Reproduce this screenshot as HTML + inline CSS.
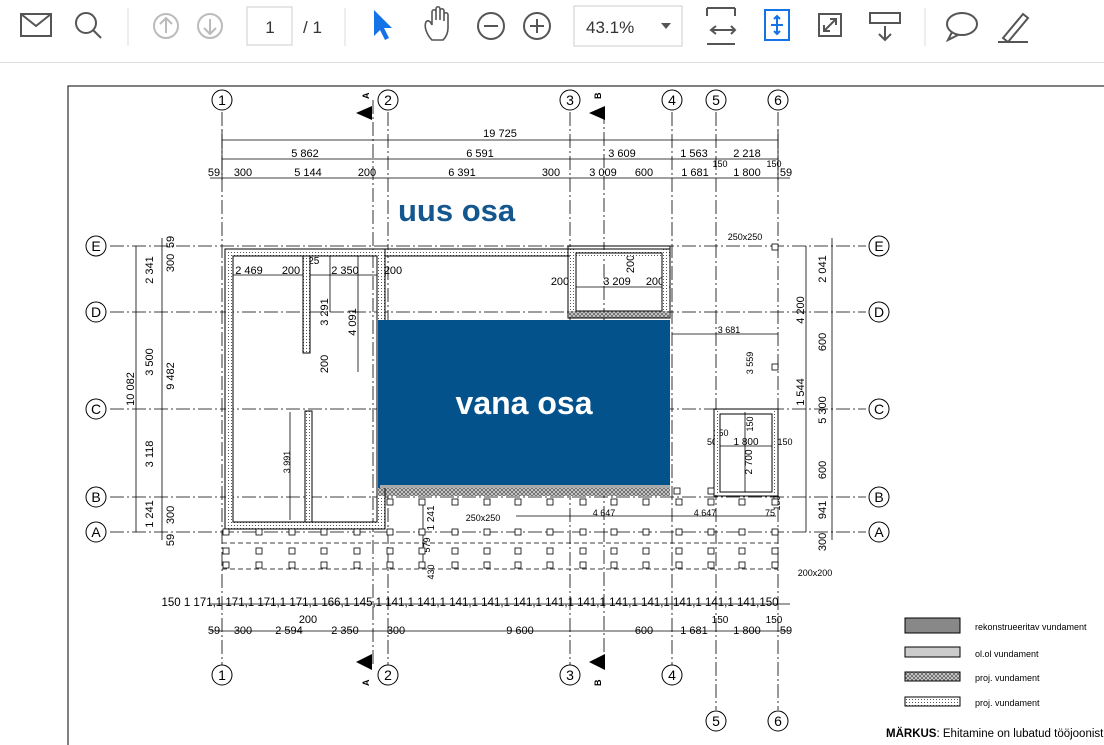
<!DOCTYPE html>
<html><head><meta charset="utf-8"><style>
body{margin:0;width:1104px;height:745px;overflow:hidden;background:#fff;font-family:"Liberation Sans",sans-serif}
#tb{position:absolute;left:0;top:0;width:1104px;height:62px;border-bottom:1px solid #ddd;background:#fff}
svg{position:absolute;left:0;top:0}
</style></head><body>
<div id="tb"></div>
<svg width="1104" height="745" viewBox="0 0 1104 745" font-family="Liberation Sans, sans-serif">
<defs><pattern id="dots" width="3" height="3" patternUnits="userSpaceOnUse"><rect width="3" height="3" fill="#fff"/><rect width="1" height="1" fill="#555"/></pattern>
<pattern id="xh" width="4" height="4" patternUnits="userSpaceOnUse"><rect width="4" height="4" fill="#ccc"/><path d="M0 0l4 4M4 0l-4 4" stroke="#444" stroke-width="0.6"/></pattern></defs>
<!-- toolbar -->
<g fill="none" stroke="#555" stroke-width="2">
<rect x="21" y="14" width="30" height="22"/><path d="M21 14l15 12 15-12"/>
<circle cx="86" cy="23" r="10"/><path d="M93 30l8 8"/>
<circle cx="166" cy="26" r="12" stroke="#bbb"/><path d="M166 33v-14M160 24l6-6 6 6" stroke="#bbb"/>
<circle cx="210" cy="26" r="12" stroke="#bbb"/><path d="M210 19v14M204 28l6 6 6-6" stroke="#bbb"/>
<circle cx="491" cy="26" r="13"/><path d="M484 26h14"/>
<circle cx="537" cy="26" r="13"/><path d="M530 26h14M537 19v14"/>
<path d="M707 8h28M707 8v8M735 8v8M707 44h28M711 30h24M716 26l-5 4 5 4M731 26l4 4-4 4"/>
<path d="M819 14h22v22h-22z M824 31l12-12M830 19h6v6M824 25v6h6"/>
<rect x="870" y="13" width="30" height="10"/><path d="M885 26v14M879 34l6 6 6-6"/>
<ellipse cx="962" cy="24" rx="15" ry="11"/><path d="M952 32l-4 8 10-5"/>
<path d="M1003 38l20-24 5 4-20 24z M998 42h30"/>
<path d="M432 40c-6-6-8-14-6-18 2-3 5 0 6 3v-13c0-3 4-3 4 0v8-11c0-3 4-3 4 0v11-9c0-3 4-3 4 0v10-6c0-3 4-3 4 0v13c0 6-3 10-5 12z" stroke-width="1.6"/>
</g>
<g stroke="#ddd"><line x1="128" y1="8" x2="128" y2="46"/><line x1="345" y1="8" x2="345" y2="46"/><line x1="925" y1="8" x2="925" y2="46"/></g>
<rect x="247" y="7" width="45" height="38" fill="#fff" stroke="#ccc"/>
<text x="270" y="33" font-size="17" text-anchor="middle" fill="#333">1</text>
<text x="303" y="33" font-size="17" fill="#333">/ 1</text>
<rect x="574" y="6" width="108" height="40" fill="#fff" stroke="#ccc"/>
<text x="586" y="33" font-size="17" fill="#333">43.1%</text>
<path d="M661 23h10l-5 6z" fill="#555"/>
<path d="M374 10l0 26 6-6 5 10 4-2-5-10 8 0z" fill="#1473e6"/>
<rect x="765" y="10" width="24" height="30" fill="none" stroke="#1473e6" stroke-width="2"/><path d="M777 16v18M771 25h12M774 19l3-3 3 3M774 31l3 3 3-3" stroke="#1473e6" stroke-width="2" fill="none"/>

<!-- frame -->
<path d="M68 745V86H1104" fill="none" stroke="#000" stroke-width="1"/>

<!-- grid lines -->
<g stroke="#000" stroke-width="0.8" stroke-dasharray="14,3,2,3" fill="none">
<line x1="222" y1="112" x2="222" y2="665"/><line x1="373" y1="100" x2="373" y2="665"/>
<line x1="388" y1="112" x2="388" y2="665"/><line x1="570" y1="112" x2="570" y2="665"/>
<line x1="604" y1="110" x2="604" y2="665"/>
<line x1="672" y1="112" x2="672" y2="665"/><line x1="716" y1="112" x2="716" y2="710"/><line x1="778" y1="112" x2="778" y2="710"/>
<line x1="110" y1="246" x2="866" y2="246"/><line x1="110" y1="312" x2="866" y2="312"/>
<line x1="110" y1="409" x2="866" y2="409"/><line x1="110" y1="497" x2="866" y2="497"/>
<line x1="110" y1="532" x2="866" y2="532"/>
</g>
<g fill="#fff" stroke="#000" stroke-width="1">
<circle cx="222" cy="100" r="10"/><circle cx="388" cy="100" r="10"/><circle cx="570" cy="100" r="10"/><circle cx="672" cy="100" r="10"/><circle cx="716" cy="100" r="10"/><circle cx="778" cy="100" r="10"/>
<circle cx="222" cy="675" r="10"/><circle cx="388" cy="675" r="10"/><circle cx="570" cy="675" r="10"/><circle cx="672" cy="675" r="10"/><circle cx="716" cy="721" r="10"/><circle cx="778" cy="721" r="10"/>
<circle cx="96" cy="246" r="10"/><circle cx="96" cy="312" r="10"/><circle cx="96" cy="409" r="10"/><circle cx="96" cy="497" r="10"/><circle cx="96" cy="532" r="10"/>
<circle cx="879" cy="246" r="10"/><circle cx="879" cy="312" r="10"/><circle cx="879" cy="409" r="10"/><circle cx="879" cy="497" r="10"/><circle cx="879" cy="532" r="10"/>
</g>
<g font-size="14" text-anchor="middle" fill="#000">
<text x="222" y="105">1</text><text x="388" y="105">2</text><text x="570" y="105">3</text><text x="672" y="105">4</text><text x="716" y="105">5</text><text x="778" y="105">6</text>
<text x="222" y="680">1</text><text x="388" y="680">2</text><text x="570" y="680">3</text><text x="672" y="680">4</text><text x="716" y="726">5</text><text x="778" y="726">6</text>
<text x="96" y="251">E</text><text x="96" y="317">D</text><text x="96" y="414">C</text><text x="96" y="502">B</text><text x="96" y="537">A</text>
<text x="879" y="251">E</text><text x="879" y="317">D</text><text x="879" y="414">C</text><text x="879" y="502">B</text><text x="879" y="537">A</text>
</g>
<g fill="#000"><path d="M372 106v14l-16-7z"/><path d="M605 106v14l-16-7z"/><path d="M372 654v16l-16-8z"/><path d="M605 654v16l-16-8z"/></g>
<g font-size="9" font-weight="bold"><text transform="translate(369,99) rotate(-90)">A</text><text transform="translate(601,99) rotate(-90)">B</text><text transform="translate(369,686) rotate(-90)">A</text><text transform="translate(601,686) rotate(-90)">B</text></g>

<!-- dimension lines -->
<g stroke="#000" stroke-width="0.8">
<line x1="222" y1="140" x2="778" y2="140"/><line x1="222" y1="159" x2="778" y2="159"/><line x1="210" y1="178" x2="790" y2="178"/>
<line x1="210" y1="604" x2="790" y2="604"/><line x1="210" y1="631" x2="790" y2="631"/>
<line x1="136" y1="246" x2="136" y2="532"/><line x1="162" y1="238" x2="162" y2="540"/>
<line x1="806" y1="246" x2="806" y2="532"/><line x1="832" y1="238" x2="832" y2="540"/>
<line x1="222" y1="130" x2="222" y2="180"/><line x1="778" y1="130" x2="778" y2="180"/>
<line x1="226" y1="275" x2="386" y2="275"/><line x1="572" y1="287" x2="670" y2="287"/>
<line x1="672" y1="334" x2="778" y2="334"/><line x1="680" y1="516" x2="776" y2="516"/><line x1="516" y1="516" x2="680" y2="516"/>
<line x1="718" y1="446" x2="776" y2="446"/><line x1="745" y1="412" x2="745" y2="492"/>
<line x1="358" y1="256" x2="358" y2="372"/><line x1="330" y1="256" x2="330" y2="312"/><line x1="290" y1="412" x2="290" y2="520"/>
<line x1="423" y1="500" x2="423" y2="565"/>
</g>
<g fill="#000" font-size="11" text-anchor="middle">
<text x="500" y="137">19 725</text>
<text x="305" y="157">5 862</text><text x="480" y="157">6 591</text><text x="622" y="157">3 609</text><text x="694" y="157">1 563</text><text x="747" y="157">2 218</text>
<text x="214" y="176">59</text><text x="243" y="176">300</text><text x="308" y="176">5 144</text><text x="367" y="176">200</text><text x="462" y="176">6 391</text><text x="551" y="176">300</text><text x="603" y="176">3 009</text><text x="644" y="176">600</text><text x="695" y="176">1 681</text><text x="747" y="176">1 800</text><text x="786" y="176">59</text>
<text x="720" y="167" font-size="9">150</text><text x="774" y="167" font-size="9">150</text>
<text x="470" y="606" font-size="11.5">150 1 171,1 171,1 171,1 171,1 166,1 145,1 141,1 141,1 141,1 141,1 141,1 141,1 141,1 141,1 141,1 141,1 141,1 141,150</text>
<text x="214" y="634">59</text><text x="243" y="634">300</text><text x="289" y="634">2 594</text><text x="345" y="634">2 350</text><text x="396" y="634">300</text><text x="520" y="634">9 600</text><text x="644" y="634">600</text><text x="694" y="634">1 681</text><text x="747" y="634">1 800</text><text x="786" y="634">59</text>
<text x="308" y="623">200</text><text x="720" y="623" font-size="10">150</text><text x="774" y="623" font-size="10">150</text>
<text x="249" y="274">2 469</text><text x="291" y="274">200</text><text x="345" y="274">2 350</text><text x="393" y="274">200</text><text x="311" y="264" font-size="10">125</text>
<text x="560" y="285">200</text><text x="617" y="285">3 209</text><text x="655" y="285">200</text>
<text x="729" y="333" font-size="9">3 681</text><text x="604" y="516" font-size="9">4 647</text><text x="705" y="516" font-size="9">4 647</text><text x="770" y="516" font-size="9">75</text>
<text x="483" y="521" font-size="9">250x250</text><text x="745" y="240" font-size="9">250x250</text><text x="815" y="576" font-size="9">200x200</text>
<text x="746" y="445" font-size="10">1 800</text><text x="712" y="445" font-size="9">50</text><text x="785" y="445" font-size="9">150</text><text x="721" y="436" font-size="9">150</text>
</g>
<g fill="#000" font-size="11" text-anchor="middle">
<text transform="translate(153,270) rotate(-90)">2 341</text><text transform="translate(153,362) rotate(-90)">3 500</text><text transform="translate(153,454) rotate(-90)">3 118</text><text transform="translate(153,514) rotate(-90)">1 241</text><text transform="translate(134,389) rotate(-90)">10 082</text>
<text transform="translate(174,263) rotate(-90)">300</text><text transform="translate(174,242) rotate(-90)">59</text><text transform="translate(174,376) rotate(-90)">9 482</text><text transform="translate(174,515) rotate(-90)">300</text><text transform="translate(174,540) rotate(-90)">59</text>
<text transform="translate(826,269) rotate(-90)">2 041</text><text transform="translate(804,310) rotate(-90)">4 200</text><text transform="translate(826,342) rotate(-90)">600</text><text transform="translate(804,392) rotate(-90)">1 544</text><text transform="translate(826,410) rotate(-90)">5 300</text><text transform="translate(826,470) rotate(-90)">600</text><text transform="translate(826,510) rotate(-90)">941</text><text transform="translate(826,542) rotate(-90)">300</text>
<text transform="translate(328,312) rotate(-90)">3 291</text><text transform="translate(356,322) rotate(-90)">4 091</text><text transform="translate(328,364) rotate(-90)">200</text><text transform="translate(634,264) rotate(-90)">200</text>
<text transform="translate(753,363) rotate(-90)" font-size="9">3 559</text><text transform="translate(752,462) rotate(-90)" font-size="10">2 700</text><text transform="translate(753,424) rotate(-90)" font-size="9">150</text><text transform="translate(780,503) rotate(-90)" font-size="9">150</text>
<text transform="translate(290,462) rotate(-90)" font-size="9">3 991</text><text transform="translate(434,518) rotate(-90)" font-size="10">1 241</text><text transform="translate(430,545) rotate(-90)" font-size="9">579</text><text transform="translate(434,572) rotate(-90)" font-size="9">430</text>
</g>

<!-- foundations -->
<g fill="url(#dots)"><rect x="226" y="250" width="7" height="278"/><rect x="377" y="256" width="8" height="272"/><rect x="226" y="522" width="159" height="7"/><rect x="226" y="250" width="444" height="6"/><rect x="569" y="247" width="7" height="70"/><rect x="662" y="247" width="7" height="70"/><rect x="715" y="410" width="5" height="85"/><rect x="772" y="410" width="5" height="85"/><rect x="303" y="256" width="7" height="97"/><rect x="305" y="411" width="7" height="111"/></g>
<rect x="569" y="311" width="100" height="7" fill="url(#xh)"/>
<rect x="378" y="488" width="292" height="8" fill="url(#xh)"/>
<g fill="none" stroke="#000" stroke-width="1">
<rect x="225" y="249" width="160" height="280"/><rect x="233" y="256" width="144" height="266"/>
<line x1="385" y1="249" x2="670" y2="249"/><line x1="385" y1="256" x2="570" y2="256"/>
<rect x="568" y="246" width="102" height="72"/><rect x="576" y="253" width="86" height="58"/>
<rect x="303" y="256" width="7" height="97"/><rect x="305" y="411" width="7" height="111"/>
<rect x="714" y="409" width="64" height="87"/><rect x="720" y="414" width="52" height="78"/>
</g>

<!-- piles -->
<g fill="#fff" stroke="#000" stroke-width="0.8">
<g id="r1">
<rect x="223" y="529" width="6" height="6"/><rect x="256" y="529" width="6" height="6"/><rect x="289" y="529" width="6" height="6"/><rect x="321" y="529" width="6" height="6"/><rect x="354" y="529" width="6" height="6"/><rect x="387" y="529" width="6" height="6"/><rect x="419" y="529" width="6" height="6"/><rect x="452" y="529" width="6" height="6"/><rect x="484" y="529" width="6" height="6"/><rect x="515" y="529" width="6" height="6"/><rect x="547" y="529" width="6" height="6"/><rect x="580" y="529" width="6" height="6"/><rect x="611" y="529" width="6" height="6"/><rect x="643" y="529" width="6" height="6"/><rect x="676" y="529" width="6" height="6"/><rect x="708" y="529" width="6" height="6"/><rect x="739" y="529" width="6" height="6"/><rect x="772" y="529" width="6" height="6"/>
</g>
<use href="#r1" y="19"/><use href="#r1" y="33"/>
<rect x="387" y="499" width="6" height="6"/><rect x="419" y="499" width="6" height="6"/><rect x="452" y="499" width="6" height="6"/><rect x="484" y="499" width="6" height="6"/><rect x="515" y="499" width="6" height="6"/><rect x="547" y="499" width="6" height="6"/><rect x="580" y="499" width="6" height="6"/><rect x="611" y="499" width="6" height="6"/><rect x="643" y="499" width="6" height="6"/><rect x="676" y="499" width="6" height="6"/><rect x="708" y="499" width="6" height="6"/><rect x="739" y="499" width="6" height="6"/><rect x="772" y="499" width="6" height="6"/>
<rect x="674" y="488" width="6" height="6"/><rect x="708" y="488" width="6" height="6"/><rect x="772" y="244" width="6" height="6"/><rect x="772" y="364" width="6" height="6"/>
</g>
<g stroke="#000" stroke-dasharray="5,3" stroke-width="0.7"><line x1="222" y1="543" x2="778" y2="543"/><line x1="222" y1="569" x2="778" y2="569"/></g>

<text x="398" y="221" font-size="31" font-weight="bold" fill="#14578f">uus osa</text>
<rect x="378" y="320" width="292" height="168" fill="#03528c"/>
<rect x="380" y="485" width="290" height="3" fill="#aaa"/>
<text x="524" y="414" font-size="32" font-weight="bold" fill="#fff" text-anchor="middle">vana osa</text>

<rect x="905" y="618" width="55" height="15" fill="#888" stroke="#000"/>
<rect x="905" y="647" width="55" height="10" fill="#ccc" stroke="#000"/>
<rect x="905" y="672" width="55" height="9" fill="url(#xh)" stroke="#000"/>
<rect x="905" y="697" width="55" height="9" fill="url(#dots)" stroke="#000"/>
<g font-size="9" fill="#000"><text x="975" y="630">rekonstrueeritav vundament</text><text x="975" y="657">ol.ol vundament</text><text x="975" y="681">proj. vundament</text><text x="975" y="706">proj. vundament</text></g>
<text x="886" y="737" font-size="11.5"><tspan font-weight="bold">MÄRKUS</tspan>: Ehitamine on lubatud tööjoonist</text>
</svg>
</body></html>
